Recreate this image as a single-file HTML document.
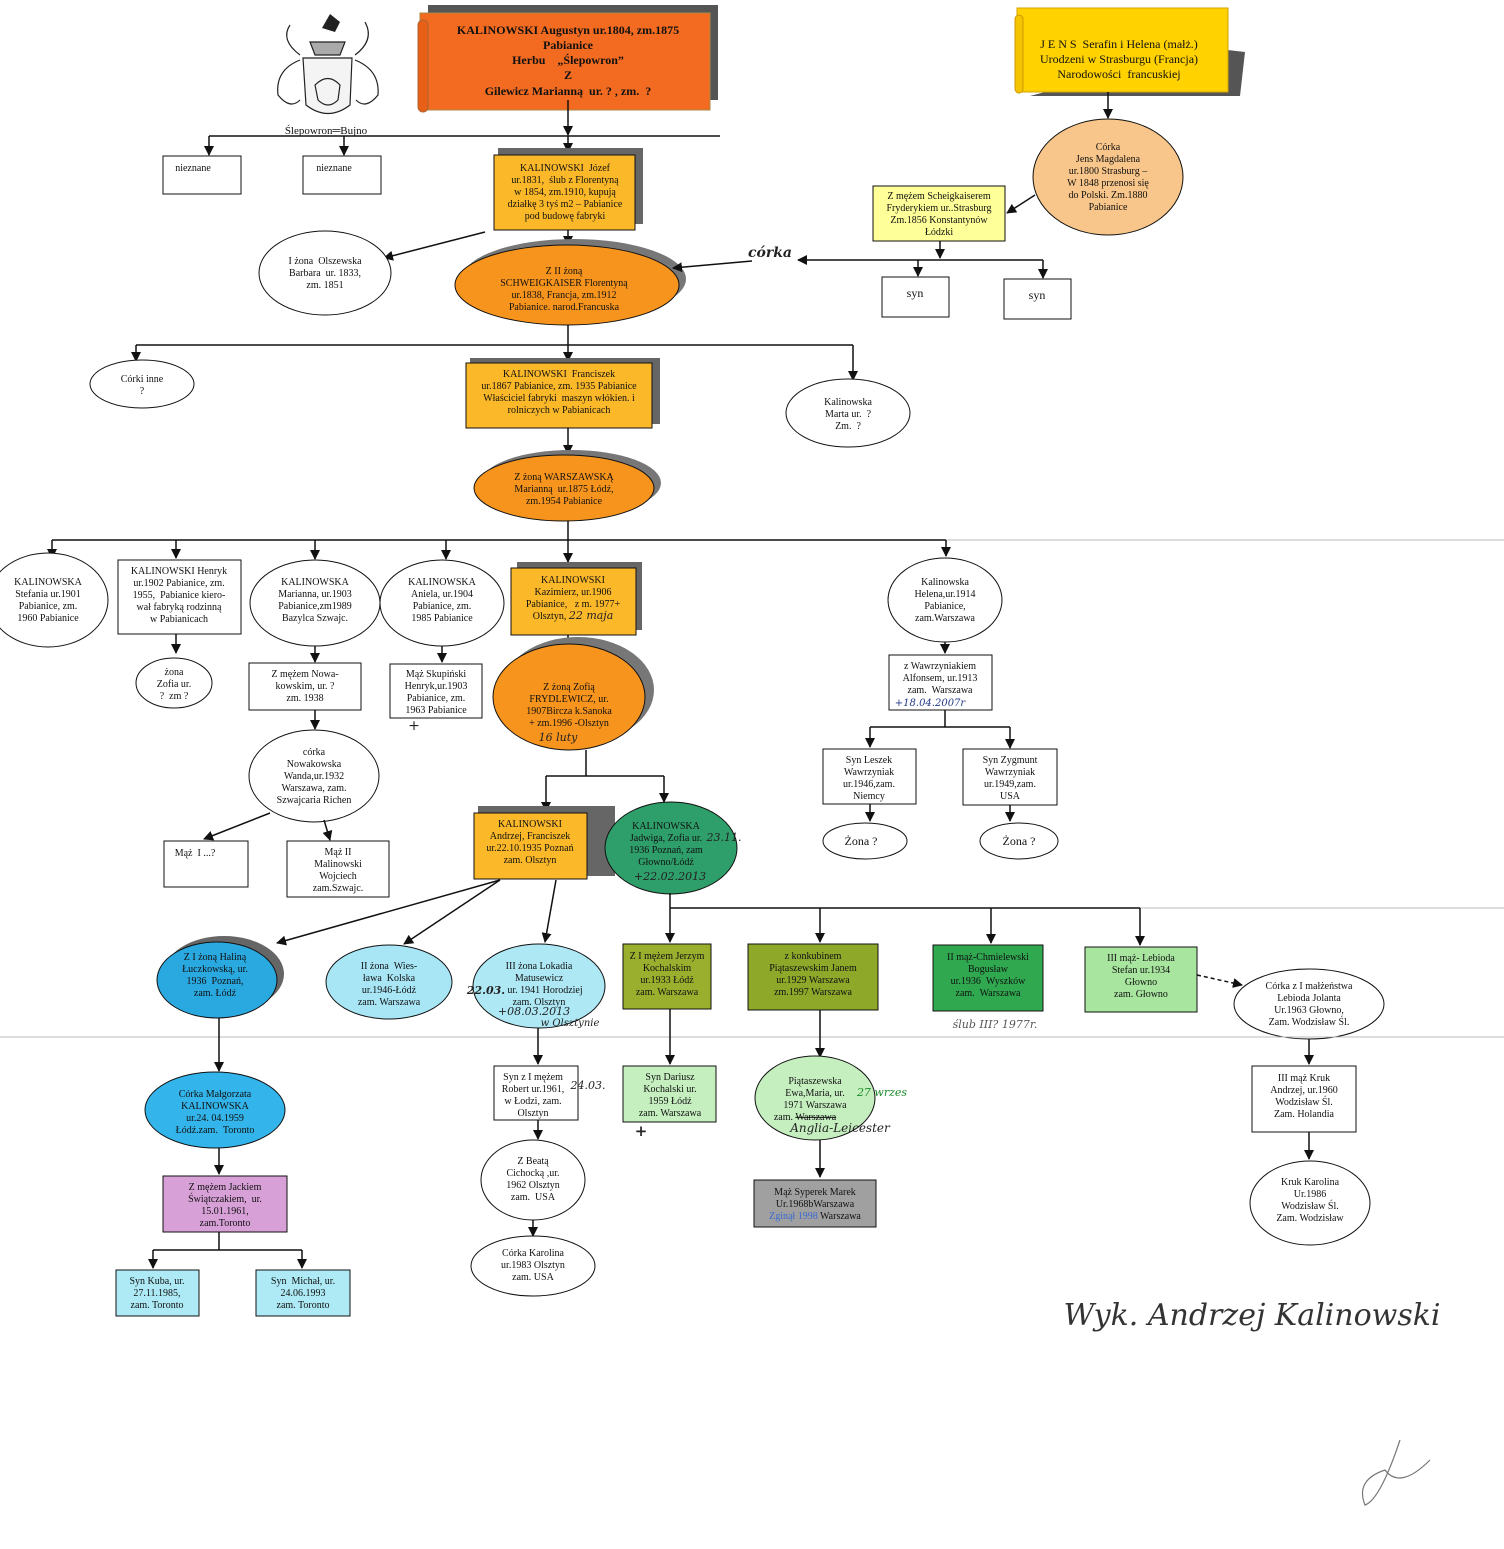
<!DOCTYPE html>
<html><head><meta charset="utf-8"><style>
body{margin:0;background:#fff}
svg{display:block}
text{font-family:"Liberation Serif",serif;font-size:10px;fill:#111;text-anchor:middle}
.b{font-weight:bold;font-size:12px}
.h{font-style:italic;font-family:"DejaVu Serif",serif;fill:#222}
line,path.l{stroke:#111;stroke-width:1.5;fill:none}
</style></head><body>
<svg width="1504" height="1549" viewBox="0 0 1504 1549" xmlns="http://www.w3.org/2000/svg">
<defs><marker id="a" markerWidth="10" markerHeight="10" refX="9" refY="5" orient="auto" markerUnits="userSpaceOnUse"><path d="M0,0 L10,5 L0,10 z" fill="#111"/></marker></defs>
<rect width="1504" height="1549" fill="#fff"/>

<!-- coat of arms -->
<g stroke="#222" fill="none" stroke-width="1.2">
<path d="M300,55 Q280,40 290,25 M355,55 Q375,40 365,22"/>
<path d="M300,60 Q275,70 278,95 Q290,110 300,100 M355,60 Q380,70 378,95 Q366,110 356,100"/>
<path d="M303,58 L352,58 L350,105 Q328,122 306,105 Z" fill="#f4f4f4"/>
<path d="M315,85 Q328,72 340,85 L338,100 Q328,110 318,100 Z"/>
<path d="M310,42 L345,42 L340,55 L315,55 Z" fill="#aaa"/>
</g>
<path d="M322,28 L330,14 L340,22 L335,32 Z" fill="#222"/>
<text x="326" y="134" style="font-size:11px">Ślepowron═Bujno</text>

<!-- top orange scroll -->
<rect x="428" y="5" width="290" height="95" fill="#555"/>
<rect x="420" y="13" width="290" height="97" fill="#f26b21" stroke="#a84" stroke-width="1"/>
<rect x="418" y="20" width="10" height="92" rx="5" fill="#e85f18" stroke="#a63"/>
<text class="b" x="568" y="34">KALINOWSKI Augustyn ur.1804, zm.1875</text>
<text class="b" x="568" y="49">Pabianice</text>
<text class="b" x="568" y="64">Herbu &#160;&#160;&#160;„Ślepowron”</text>
<text class="b" x="568" y="79">Z</text>
<text class="b" x="568" y="95">Gilewicz Marianną &#160;ur. ? , zm. &#160;?</text>

<!-- right yellow scroll -->
<path d="M1210,48 L1245,52 L1240,96 L1030,96 Z" fill="#555"/>
<rect x="1017" y="8" width="211" height="84" fill="#ffd200" stroke="#d9a000"/>
<rect x="1015" y="15" width="8" height="78" rx="4" fill="#f5c400" stroke="#c90"/>
<text x="1119" y="48" style="font-size:12px">J E N S &#160;Serafin i Helena (małż.)</text>
<text x="1119" y="63" style="font-size:12px">Urodzeni w Strasburgu (Francja)</text>
<text x="1119" y="78" style="font-size:12px">Narodowości &#160;francuskiej</text>

<!-- connectors top -->
<line x1="568" y1="100" x2="568" y2="135" marker-end="url(#a)"/>
<line x1="209" y1="136" x2="720" y2="136"/>
<line x1="209" y1="136" x2="209" y2="155" marker-end="url(#a)"/>
<line x1="344" y1="136" x2="344" y2="155" marker-end="url(#a)"/>
<line x1="568" y1="136" x2="568" y2="152" marker-end="url(#a)"/>
<rect x="163" y="156" width="78" height="38" fill="#fff" stroke="#111"/>
<text x="193" y="171">nieznane</text>
<rect x="303" y="156" width="78" height="38" fill="#fff" stroke="#111"/>
<text x="334" y="171">nieznane</text>

<rect x="498" y="148" width="145" height="76" fill="#666"/>
<rect x="494" y="155" width="141" height="75" fill="#fbb829" stroke="#111"/>
<text x="565" y="171">KALINOWSKI &#160;Józef</text>
<text x="565" y="183">ur.1831, &#160;ślub z Florentyną</text>
<text x="565" y="195">w 1854, zm.1910, kupują</text>
<text x="565" y="207">działkę 3 tyś m2 – Pabianice</text>
<text x="565" y="219">pod budowę fabryki</text>

<line x1="485" y1="232" x2="384" y2="258" marker-end="url(#a)"/>
<ellipse cx="325" cy="273" rx="66" ry="42" fill="#fff" stroke="#111"/>
<text x="325" y="264">I żona &#160;Olszewska</text>
<text x="325" y="276">Barbara &#160;ur. 1833,</text>
<text x="325" y="288">zm. 1851</text>

<line x1="568" y1="230" x2="568" y2="245" marker-end="url(#a)"/>
<ellipse cx="574" cy="279" rx="112" ry="40" fill="#777"/>
<ellipse cx="567" cy="285" rx="112" ry="40" fill="#f7941d" stroke="#111"/>
<text x="564" y="274">Z II żoną</text>
<text x="564" y="286">SCHWEIGKAISER Florentyną</text>
<text x="564" y="298">ur.1838, Francja, zm.1912</text>
<text x="564" y="310">Pabianice. narod.Francuska</text>

<!-- right branch -->
<line x1="1108" y1="92" x2="1108" y2="118" marker-end="url(#a)"/>
<ellipse cx="1108" cy="177" rx="75" ry="58" fill="#f8c68a" stroke="#111"/>
<text x="1108" y="150">Córka</text>
<text x="1108" y="162">Jens Magdalena</text>
<text x="1108" y="174">ur.1800 Strasburg –</text>
<text x="1108" y="186">W 1848 przenosi się</text>
<text x="1108" y="198">do Polski. Zm.1880</text>
<text x="1108" y="210">Pabianice</text>
<line x1="1035" y1="195" x2="1007" y2="213" marker-end="url(#a)"/>
<rect x="873" y="186" width="132" height="55" fill="#ffff99" stroke="#111"/>
<text x="939" y="199">Z mężem Scheigkaiserem</text>
<text x="939" y="211">Fryderykiem ur..Strasburg</text>
<text x="939" y="223">Zm.1856 Konstantynów</text>
<text x="939" y="235">Łódzki</text>
<line x1="940" y1="241" x2="940" y2="258" marker-end="url(#a)"/>
<line x1="800" y1="260" x2="1043" y2="260"/>
<line x1="805" y1="260" x2="798" y2="260" marker-end="url(#a)"/>
<line x1="918" y1="260" x2="918" y2="276" marker-end="url(#a)"/>
<line x1="1043" y1="260" x2="1043" y2="278" marker-end="url(#a)"/>
<text class="h" x="770" y="257" style="font-size:14px;font-weight:bold">córka</text>
<line x1="752" y1="261" x2="673" y2="268" marker-end="url(#a)"/>
<rect x="882" y="277" width="67" height="40" fill="#fff" stroke="#111"/>
<text x="915" y="297" style="font-size:12px">syn</text>
<rect x="1004" y="279" width="67" height="40" fill="#fff" stroke="#111"/>
<text x="1037" y="299" style="font-size:12px">syn</text>

<!-- gen 3 -->
<line x1="568" y1="325" x2="568" y2="345"/>
<line x1="136" y1="345" x2="853" y2="345"/>
<line x1="136" y1="345" x2="136" y2="361" marker-end="url(#a)"/>
<line x1="568" y1="345" x2="568" y2="361" marker-end="url(#a)"/>
<line x1="853" y1="345" x2="853" y2="380" marker-end="url(#a)"/>
<ellipse cx="142" cy="384" rx="52" ry="24" fill="#fff" stroke="#111"/>
<text x="142" y="382">Córki inne</text>
<text x="142" y="394">?</text>
<rect x="470" y="358" width="190" height="66" fill="#666"/>
<rect x="466" y="363" width="186" height="65" fill="#fbb829" stroke="#111"/>
<text x="559" y="377">KALINOWSKI &#160;Franciszek</text>
<text x="559" y="389">ur.1867 Pabianice, zm. 1935 Pabianice</text>
<text x="559" y="401">Właściciel fabryki &#160;maszyn włókien. i</text>
<text x="559" y="413">rolniczych w Pabianicach</text>
<ellipse cx="848" cy="413" rx="62" ry="34" fill="#fff" stroke="#111"/>
<text x="848" y="405">Kalinowska</text>
<text x="848" y="417">Marta ur. &#160;?</text>
<text x="848" y="429">Zm. &#160;?</text>

<line x1="568" y1="428" x2="568" y2="454" marker-end="url(#a)"/>
<ellipse cx="571" cy="483" rx="90" ry="33" fill="#777"/>
<ellipse cx="564" cy="488" rx="90" ry="33" fill="#f7941d" stroke="#111"/>
<text x="564" y="480">Z żoną WARSZAWSKĄ</text>
<text x="564" y="492">Marianną &#160;ur.1875 Łódź,</text>
<text x="564" y="504">zm.1954 Pabianice</text>

<!-- gen 4 -->
<line x1="568" y1="521" x2="568" y2="540"/>
<line x1="52" y1="540" x2="946" y2="540"/>
<line x1="946" y1="540" x2="1504" y2="540" style="stroke:#bbb;stroke-width:1"/>
<line x1="52" y1="540" x2="52" y2="558" marker-end="url(#a)"/>
<line x1="176" y1="540" x2="176" y2="558" marker-end="url(#a)"/>
<line x1="315" y1="540" x2="315" y2="559" marker-end="url(#a)"/>
<line x1="446" y1="540" x2="446" y2="559" marker-end="url(#a)"/>
<line x1="568" y1="540" x2="568" y2="562" marker-end="url(#a)"/>
<line x1="946" y1="540" x2="946" y2="556" marker-end="url(#a)"/>

<ellipse cx="48" cy="600" rx="60" ry="47" fill="#fff" stroke="#111"/>
<text x="48" y="585">KALINOWSKA</text>
<text x="48" y="597">Stefania ur.1901</text>
<text x="48" y="609">Pabianice, zm.</text>
<text x="48" y="621">1960 Pabianice</text>

<rect x="118" y="560" width="123" height="74" fill="#fff" stroke="#111"/>
<text x="179" y="574">KALINOWSKI Henryk</text>
<text x="179" y="586">ur.1902 Pabianice, zm.</text>
<text x="179" y="598">1955, &#160;Pabianice kiero-</text>
<text x="179" y="610">wał fabryką rodzinną</text>
<text x="179" y="622">w Pabianicach</text>

<ellipse cx="315" cy="603" rx="65" ry="43" fill="#fff" stroke="#111"/>
<text x="315" y="585">KALINOWSKA</text>
<text x="315" y="597">Marianna, ur.1903</text>
<text x="315" y="609">Pabianice,zm1989</text>
<text x="315" y="621">Bazylca Szwajc.</text>

<ellipse cx="442" cy="603" rx="62" ry="43" fill="#fff" stroke="#111"/>
<text x="442" y="585">KALINOWSKA</text>
<text x="442" y="597">Aniela, ur.1904</text>
<text x="442" y="609">Pabianice, zm.</text>
<text x="442" y="621">1985 Pabianice</text>

<rect x="517" y="562" width="125" height="68" fill="#666"/>
<rect x="511" y="568" width="125" height="67" fill="#fbb829" stroke="#111"/>
<text x="573" y="583">KALINOWSKI</text>
<text x="573" y="595">Kazimierz, ur.1906</text>
<text x="573" y="607">Pabianice, &#160;&#160;z m. 1977+</text>
<text x="573" y="619">Olsztyn, <tspan class="h" style="font-size:11px">22 maja</tspan></text>

<line x1="176" y1="634" x2="176" y2="653" marker-end="url(#a)"/>
<ellipse cx="174" cy="683" rx="38" ry="25" fill="#fff" stroke="#111"/>
<text x="174" y="675">żona</text>
<text x="174" y="687">Zofia ur.</text>
<text x="174" y="699">? &#160;zm ?</text>

<line x1="315" y1="646" x2="315" y2="662" marker-end="url(#a)"/>
<rect x="249" y="663" width="112" height="47" fill="#fff" stroke="#111"/>
<text x="305" y="677">Z mężem Nowa-</text>
<text x="305" y="689">kowskim, ur. ?</text>
<text x="305" y="701">zm. 1938</text>
<line x1="315" y1="710" x2="315" y2="729" marker-end="url(#a)"/>
<ellipse cx="314" cy="776" rx="65" ry="46" fill="#fff" stroke="#111"/>
<text x="314" y="755">córka</text>
<text x="314" y="767">Nowakowska</text>
<text x="314" y="779">Wanda,ur.1932</text>
<text x="314" y="791">Warszawa, zam.</text>
<text x="314" y="803">Szwajcaria Richen</text>
<line x1="270" y1="813" x2="204" y2="839" marker-end="url(#a)"/>
<line x1="324" y1="820" x2="330" y2="840" marker-end="url(#a)"/>
<rect x="164" y="841" width="84" height="46" fill="#fff" stroke="#111"/>
<text x="195" y="856">Mąż &#160;I ...?</text>
<rect x="287" y="841" width="102" height="56" fill="#fff" stroke="#111"/>
<text x="338" y="855">Mąż II</text>
<text x="338" y="867">Malinowski</text>
<text x="338" y="879">Wojciech</text>
<text x="338" y="891">zam.Szwajc.</text>

<line x1="442" y1="646" x2="442" y2="662" marker-end="url(#a)"/>
<rect x="390" y="664" width="92" height="54" fill="#fff" stroke="#111"/>
<text x="436" y="677">Mąż Skupiński</text>
<text x="436" y="689">Henryk,ur.1903</text>
<text x="436" y="701">Pabianice, zm.</text>
<text x="436" y="713">1963 Pabianice</text>
<text class="h" x="414" y="730" style="font-size:14px">+</text>

<line x1="568" y1="635" x2="568" y2="648" marker-end="url(#a)"/>
<ellipse cx="578" cy="690" rx="76" ry="53" fill="#777"/>
<ellipse cx="569" cy="697" rx="76" ry="53" fill="#f7941d" stroke="#111"/>
<text x="569" y="690">Z żoną Zofią</text>
<text x="569" y="702">FRYDLEWICZ, ur.</text>
<text x="569" y="714">1907Bircza k.Sanoka</text>
<text x="569" y="726">+ zm.1996 -Olsztyn</text>
<text class="h" x="558" y="741" style="font-size:11px">16 luty</text>

<!-- Helena -->
<ellipse cx="945" cy="600" rx="57" ry="42" fill="#fff" stroke="#111"/>
<text x="945" y="585">Kalinowska</text>
<text x="945" y="597">Helena,ur.1914</text>
<text x="945" y="609">Pabianice,</text>
<text x="945" y="621">zam.Warszawa</text>
<line x1="945" y1="642" x2="945" y2="653" marker-end="url(#a)"/>
<rect x="889" y="655" width="103" height="55" fill="#fff" stroke="#111"/>
<text x="940" y="669">z Wawrzyniakiem</text>
<text x="940" y="681">Alfonsem, ur.1913</text>
<text x="940" y="693">zam. &#160;Warszawa</text>
<text class="h" x="930" y="706" style="font-size:10px;fill:#223a8a">+18.04.2007r</text>
<line x1="945" y1="710" x2="945" y2="727"/>
<line x1="870" y1="727" x2="1010" y2="727"/>
<line x1="870" y1="727" x2="870" y2="747" marker-end="url(#a)"/>
<line x1="1010" y1="727" x2="1010" y2="748" marker-end="url(#a)"/>
<rect x="823" y="749" width="93" height="55" fill="#fff" stroke="#111"/>
<text x="869" y="763">Syn Leszek</text>
<text x="869" y="775">Wawrzyniak</text>
<text x="869" y="787">ur.1946,zam.</text>
<text x="869" y="799">Niemcy</text>
<rect x="963" y="749" width="94" height="56" fill="#fff" stroke="#111"/>
<text x="1010" y="763">Syn Zygmunt</text>
<text x="1010" y="775">Wawrzyniak</text>
<text x="1010" y="787">ur.1949,zam.</text>
<text x="1010" y="799">USA</text>
<line x1="870" y1="804" x2="870" y2="821" marker-end="url(#a)"/>
<line x1="1010" y1="805" x2="1010" y2="821" marker-end="url(#a)"/>
<ellipse cx="865" cy="841" rx="42" ry="18" fill="#fff" stroke="#111"/>
<text x="861" y="845" style="font-size:12px">Żona ?</text>
<ellipse cx="1019" cy="841" rx="39" ry="18" fill="#fff" stroke="#111"/>
<text x="1019" y="845" style="font-size:12px">Żona ?</text>

<!-- gen 5 -->
<line x1="586" y1="750" x2="586" y2="776"/>
<line x1="546" y1="776" x2="664" y2="776"/>
<line x1="546" y1="776" x2="546" y2="811" marker-end="url(#a)"/>
<line x1="664" y1="776" x2="664" y2="802" marker-end="url(#a)"/>
<rect x="478" y="806" width="137" height="70" fill="#666"/>
<rect x="474" y="813" width="113" height="66" fill="#fbb829" stroke="#111"/>
<text x="530" y="827">KALINOWSKI</text>
<text x="530" y="839">Andrzej, Franciszek</text>
<text x="530" y="851">ur.22.10.1935 Poznań</text>
<text x="530" y="863">zam. Olsztyn</text>
<ellipse cx="671" cy="848" rx="66" ry="46" fill="#2e9e6a" stroke="#111"/>
<text x="666" y="829">KALINOWSKA</text>
<text x="666" y="841">Jadwiga, Zofia ur.</text>
<text x="666" y="853">1936 Poznań, zam</text>
<text x="666" y="865">Głowno/Łódź</text>
<text class="h" x="724" y="841" style="font-size:11px">23.11.</text>
<text class="h" x="670" y="880" style="font-size:11px">+22.02.2013</text>

<line x1="670" y1="893" x2="670" y2="908"/>
<line x1="670" y1="908" x2="1140" y2="908"/>
<line x1="1140" y1="908" x2="1504" y2="908" style="stroke:#bbb;stroke-width:1"/>
<line x1="670" y1="908" x2="670" y2="942" marker-end="url(#a)"/>
<line x1="820" y1="908" x2="820" y2="942" marker-end="url(#a)"/>
<line x1="991" y1="908" x2="991" y2="943" marker-end="url(#a)"/>
<line x1="1140" y1="908" x2="1140" y2="945" marker-end="url(#a)"/>

<rect x="623" y="944" width="88" height="65" fill="#9aaf2d" stroke="#111"/>
<text x="667" y="959">Z I mężem Jerzym</text>
<text x="667" y="971">Kochalskim</text>
<text x="667" y="983">ur.1933 Łódź</text>
<text x="667" y="995">zam. Warszawa</text>
<rect x="748" y="944" width="130" height="66" fill="#8ea82a" stroke="#111"/>
<text x="813" y="959">z konkubinem</text>
<text x="813" y="971">Piątaszewskim Janem</text>
<text x="813" y="983">ur.1929 Warszawa</text>
<text x="813" y="995">zm.1997 Warszawa</text>
<rect x="933" y="945" width="110" height="66" fill="#2fa84f" stroke="#111"/>
<text x="988" y="960">II mąż-Chmielewski</text>
<text x="988" y="972">Bogusław</text>
<text x="988" y="984">ur.1936 &#160;Wyszków</text>
<text x="988" y="996">zam. &#160;Warszawa</text>
<text class="h" x="995" y="1028" style="font-size:11px;fill:#555">ślub III? 1977r.</text>
<rect x="1085" y="947" width="112" height="65" fill="#a8e6a0" stroke="#111"/>
<text x="1141" y="961">III mąż- Lebioda</text>
<text x="1141" y="973">Stefan ur.1934</text>
<text x="1141" y="985">Głowno</text>
<text x="1141" y="997">zam. Głowno</text>
<line x1="1197" y1="975" x2="1242" y2="985" stroke-dasharray="4,3" marker-end="url(#a)"/>
<ellipse cx="1309" cy="1004" rx="75" ry="35" fill="#fff" stroke="#111"/>
<text x="1309" y="989">Córka z I małżeństwa</text>
<text x="1309" y="1001">Lebioda Jolanta</text>
<text x="1309" y="1013">Ur.1963 Głowno,</text>
<text x="1309" y="1025">Zam. Wodzisław Śl.</text>

<line x1="0" y1="1037" x2="1504" y2="1037" style="stroke:#bbb;stroke-width:1"/>

<!-- Andrzej's wives -->
<line x1="500" y1="880" x2="277" y2="943" marker-end="url(#a)"/>
<line x1="500" y1="880" x2="404" y2="944" marker-end="url(#a)"/>
<line x1="556" y1="880" x2="545" y2="942" marker-end="url(#a)"/>
<ellipse cx="224" cy="974" rx="60" ry="38" fill="#666"/>
<ellipse cx="217" cy="980" rx="60" ry="38" fill="#2aa8e0" stroke="#111"/>
<text x="215" y="960">Z I żoną Haliną</text>
<text x="215" y="972">Łuczkowską, ur.</text>
<text x="215" y="984">1936 &#160;Poznań,</text>
<text x="215" y="996">zam. Łódź</text>
<ellipse cx="389" cy="982" rx="63" ry="37" fill="#a8e6f6" stroke="#111"/>
<text x="389" y="969">II żona &#160;Wies-</text>
<text x="389" y="981">ława &#160;Kolska</text>
<text x="389" y="993">ur.1946-Łódź</text>
<text x="389" y="1005">zam. Warszawa</text>
<ellipse cx="539" cy="986" rx="66" ry="42" fill="#aee8f5" stroke="#111"/>
<text x="539" y="969">III żona Lokadia</text>
<text x="539" y="981">Matusewicz</text>
<text x="545" y="993">ur. 1941 Horodziej</text>
<text x="539" y="1005">zam. Olsztyn</text>
<text class="h" x="486" y="994" style="font-size:11px;font-weight:bold">22.03.</text>
<text class="h" x="534" y="1015" style="font-size:11px">+08.03.2013</text>
<text class="h" x="570" y="1026" style="font-size:10px">w Olsztynie</text>

<line x1="219" y1="1018" x2="219" y2="1071" marker-end="url(#a)"/>
<ellipse cx="215" cy="1110" rx="70" ry="38" fill="#33b4ea" stroke="#111"/>
<text x="215" y="1097">Córka Małgorzata</text>
<text x="215" y="1109">KALINOWSKA</text>
<text x="215" y="1121">ur.24. 04.1959</text>
<text x="215" y="1133">Łódź.zam. &#160;Toronto</text>
<line x1="219" y1="1148" x2="219" y2="1174" marker-end="url(#a)"/>
<rect x="163" y="1176" width="124" height="56" fill="#d7a0d7" stroke="#111"/>
<text x="225" y="1190">Z mężem Jackiem</text>
<text x="225" y="1202">Świątczakiem, &#160;ur.</text>
<text x="225" y="1214">15.01.1961,</text>
<text x="225" y="1226">zam.Toronto</text>
<line x1="219" y1="1232" x2="219" y2="1250"/>
<line x1="153" y1="1250" x2="302" y2="1250"/>
<line x1="153" y1="1250" x2="153" y2="1268" marker-end="url(#a)"/>
<line x1="302" y1="1250" x2="302" y2="1268" marker-end="url(#a)"/>
<rect x="116" y="1270" width="83" height="46" fill="#aeeaf5" stroke="#111"/>
<text x="157" y="1284">Syn Kuba, ur.</text>
<text x="157" y="1296">27.11.1985,</text>
<text x="157" y="1308">zam. Toronto</text>
<rect x="256" y="1270" width="94" height="46" fill="#aeeaf5" stroke="#111"/>
<text x="303" y="1284">Syn &#160;Michał, ur.</text>
<text x="303" y="1296">24.06.1993</text>
<text x="303" y="1308">zam. Toronto</text>

<line x1="538" y1="1028" x2="538" y2="1064" marker-end="url(#a)"/>
<rect x="494" y="1066" width="84" height="54" fill="#fff" stroke="#111"/>
<text x="533" y="1080">Syn z I mężem</text>
<text x="533" y="1092">Robert ur.1961,</text>
<text x="533" y="1104">w Łodzi, zam.</text>
<text x="533" y="1116">Olsztyn</text>
<text class="h" x="588" y="1089" style="font-size:11px">24.03.</text>
<line x1="538" y1="1120" x2="538" y2="1139" marker-end="url(#a)"/>
<ellipse cx="533" cy="1180" rx="52" ry="40" fill="#fff" stroke="#111"/>
<text x="533" y="1164">Z Beatą</text>
<text x="533" y="1176">Cichocką ,ur.</text>
<text x="533" y="1188">1962 Olsztyn</text>
<text x="533" y="1200">zam. &#160;USA</text>
<line x1="533" y1="1220" x2="533" y2="1236" marker-end="url(#a)"/>
<ellipse cx="533" cy="1266" rx="62" ry="30" fill="#fff" stroke="#111"/>
<text x="533" y="1256">Córka Karolina</text>
<text x="533" y="1268">ur.1983 Olsztyn</text>
<text x="533" y="1280">zam. USA</text>

<line x1="670" y1="1009" x2="670" y2="1064" marker-end="url(#a)"/>
<rect x="623" y="1066" width="93" height="56" fill="#c6efc0" stroke="#111"/>
<text x="670" y="1080">Syn Dariusz</text>
<text x="670" y="1092">Kochalski ur.</text>
<text x="670" y="1104">1959 Łódź</text>
<text x="670" y="1116">zam. Warszawa</text>
<text class="h" x="641" y="1136" style="font-size:15px;font-weight:bold">+</text>

<line x1="820" y1="1010" x2="820" y2="1057" marker-end="url(#a)"/>
<ellipse cx="815" cy="1098" rx="60" ry="42" fill="#c6efc0" stroke="#111"/>
<text x="815" y="1084">Piątaszewska</text>
<text x="815" y="1096">Ewa,Maria, ur.</text>
<text x="815" y="1108">1971 Warszawa</text>
<text x="805" y="1120">zam. <tspan text-decoration="line-through">Warszawa</tspan></text>
<text class="h" x="840" y="1132" style="font-size:12px">Anglia-Leicester</text>
<text class="h" x="882" y="1096" style="font-size:11px;fill:#1a8a2a">27 wrzes</text>
<line x1="820" y1="1140" x2="820" y2="1177" marker-end="url(#a)"/>
<rect x="754" y="1180" width="122" height="47" fill="#a0a0a0" stroke="#111"/>
<text x="815" y="1195">Mąż Syperek Marek</text>
<text x="815" y="1207">Ur.1968bWarszawa</text>
<text x="815" y="1219"><tspan style="fill:#3a6ad0">Zginął 1998</tspan> Warszawa</text>

<line x1="1309" y1="1039" x2="1309" y2="1064" marker-end="url(#a)"/>
<rect x="1252" y="1066" width="104" height="66" fill="#fff" stroke="#111"/>
<text x="1304" y="1081">III mąż Kruk</text>
<text x="1304" y="1093">Andrzej, ur.1960</text>
<text x="1304" y="1105">Wodzisław Śl.</text>
<text x="1304" y="1117">Zam. Holandia</text>
<line x1="1309" y1="1132" x2="1309" y2="1159" marker-end="url(#a)"/>
<ellipse cx="1310" cy="1203" rx="60" ry="42" fill="#fff" stroke="#111"/>
<text x="1310" y="1185">Kruk Karolina</text>
<text x="1310" y="1197">Ur.1986</text>
<text x="1310" y="1209">Wodzisław Śl.</text>
<text x="1310" y="1221">Zam. Wodzisław</text>

<text class="h" x="1252" y="1325" style="font-size:30px;fill:#333">Wyk. Andrzej Kalinowski</text>
<path d="M1400,1440 Q1380,1500 1365,1505 Q1355,1480 1385,1470 Q1400,1490 1430,1460" stroke="#777" fill="none" stroke-width="1.2"/>
</svg>
</body></html>
